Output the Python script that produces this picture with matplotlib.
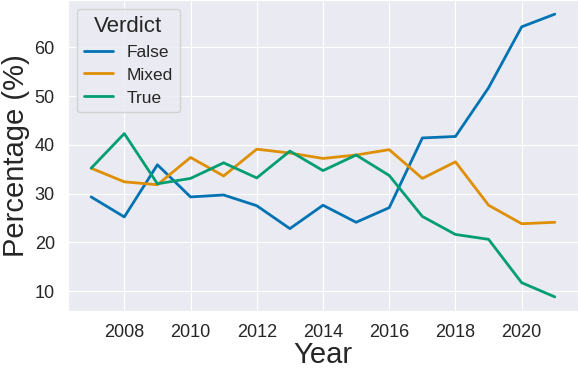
import matplotlib
matplotlib.use('Agg')
import matplotlib.pyplot as plt
import seaborn as sns

years = list(range(2007, 2022))
false_pct = [29.3, 25.2, 35.9, 29.3, 29.7, 27.5, 22.8, 27.6, 24.1, 27.1, 41.4, 41.7, 51.7, 64.2, 66.8]
mixed_pct = [35.2, 32.4, 31.8, 37.4, 33.6, 39.1, 38.3, 37.2, 37.9, 39.0, 33.1, 36.5, 27.6, 23.8, 24.1]
true_pct = [35.2, 42.3, 32.0, 33.1, 36.3, 33.2, 38.7, 34.7, 37.9, 33.7, 25.3, 21.6, 20.6, 11.7, 8.8]
series = {'False': false_pct, 'Mixed': mixed_pct, 'True': true_pct}

sns.set_style('darkgrid')
plt.rcParams['font.family'] = ['Liberation Sans', 'DejaVu Sans']
colors = sns.color_palette('colorblind')

fig = plt.figure(figsize=(5.78, 3.68), dpi=100)
ax = fig.add_axes([68 / 578, 57 / 368, 510 / 578, 311 / 368])

for (name, vals), c in zip(series.items(), colors):
    ax.plot(years, vals, color=c, linewidth=2, label=name)

ax.set_xticks(range(2008, 2021, 2))
ax.set_yticks(range(10, 61, 10))
ax.tick_params(labelsize=13, colors='#262626', pad=6)
ax.set_xlabel('Year', fontsize=21, color='#262626', labelpad=0)
ax.set_ylabel('Percentage (%)', fontsize=21, color='#262626', labelpad=3)

leg = ax.legend(title='Verdict', loc='upper left', fontsize=12.5, title_fontsize=16,
                borderaxespad=0.5, handlelength=1.7, labelspacing=0.45)
for t in leg.get_texts():
    t.set_color('#262626')

fig.savefig('out.png', dpi=100)
